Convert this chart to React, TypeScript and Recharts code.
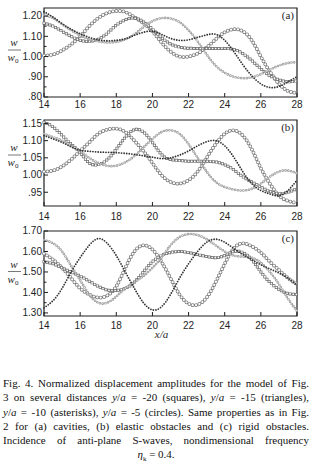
import { LineChart, Line, XAxis, YAxis, ReferenceArea } from "recharts";

// x/a positions, read every 0.5
const xs = [14, 14.5, 15, 15.5, 16, 16.5, 17, 17.5, 18, 18.5, 19, 19.5, 20, 20.5, 21, 21.5, 22, 22.5, 23, 23.5, 24, 24.5, 25, 25.5, 26, 26.5, 27, 27.5, 28];

// (a) cavities
const aSquares = [1.165, 1.15, 1.125, 1.10, 1.08, 1.075, 1.085, 1.115, 1.155, 1.182, 1.19, 1.172, 1.135, 1.095, 1.062, 1.047, 1.041, 1.04, 1.04, 1.04, 1.04, 1.035, 1.015, 0.98, 0.94, 0.905, 0.885, 0.875, 0.88];
const aTriangles = [1.205, 1.19, 1.16, 1.13, 1.105, 1.085, 1.075, 1.07, 1.072, 1.085, 1.11, 1.145, 1.175, 1.19, 1.188, 1.17, 1.13, 1.075, 1.01, 0.955, 0.92, 0.90, 0.893, 0.897, 0.913, 0.935, 0.955, 0.968, 0.972];
const aAsterisks = [1.222, 1.195, 1.163, 1.135, 1.113, 1.095, 1.083, 1.078, 1.08, 1.088, 1.105, 1.12, 1.125, 1.11, 1.09, 1.08, 1.083, 1.095, 1.107, 1.11, 1.08, 1.025, 0.96, 0.905, 0.865, 0.847, 0.852, 0.875, 0.90];
const aCircles = [1.005, 1.01, 1.03, 1.06, 1.10, 1.15, 1.19, 1.215, 1.225, 1.22, 1.195, 1.165, 1.125, 1.07, 1.025, 1.0, 1.0, 1.015, 1.045, 1.085, 1.12, 1.135, 1.125, 1.08, 1.0, 0.925, 0.865, 0.83, 0.82];

// (b) elastic obstacles
const bSquares = [1.153, 1.14, 1.115, 1.09, 1.065, 1.035, 1.03, 1.045, 1.075, 1.11, 1.132, 1.125, 1.095, 1.06, 1.045, 1.042, 1.04, 1.04, 1.04, 1.038, 1.03, 1.015, 0.995, 0.98, 0.965, 0.952, 0.946, 0.95, 0.96];
const bTriangles = [1.12, 1.11, 1.10, 1.085, 1.07, 1.05, 1.035, 1.027, 1.027, 1.037, 1.055, 1.08, 1.105, 1.125, 1.13, 1.12, 1.09, 1.05, 1.01, 0.98, 0.965, 0.958, 0.955, 0.96, 0.975, 0.995, 1.01, 1.013, 1.005];
const bAsterisks = [1.115, 1.105, 1.095, 1.082, 1.072, 1.069, 1.067, 1.066, 1.065, 1.063, 1.06, 1.056, 1.052, 1.048, 1.05, 1.058, 1.07, 1.085, 1.097, 1.10, 1.085, 1.052, 1.01, 0.975, 0.955, 0.945, 0.94, 0.955, 0.985];
const bCircles = [1.01, 1.013, 1.025, 1.045, 1.07, 1.095, 1.12, 1.132, 1.135, 1.125, 1.10, 1.07, 1.035, 1.0, 0.98, 0.975, 0.985, 1.01, 1.05, 1.09, 1.12, 1.13, 1.115, 1.075, 1.02, 0.975, 0.94, 0.925, 0.918];

// (c) rigid obstacles
const cSquares = [1.55, 1.54, 1.52, 1.50, 1.48, 1.455, 1.43, 1.412, 1.41, 1.42, 1.45, 1.50, 1.55, 1.58, 1.595, 1.60, 1.595, 1.585, 1.575, 1.57, 1.58, 1.60, 1.595, 1.56, 1.50, 1.45, 1.415, 1.395, 1.39];
const cTriangles = [1.656, 1.64, 1.60, 1.53, 1.46, 1.39, 1.35, 1.35, 1.38, 1.42, 1.45, 1.48, 1.52, 1.57, 1.63, 1.67, 1.685, 1.68, 1.66, 1.63, 1.60, 1.58, 1.575, 1.57, 1.545, 1.50, 1.44, 1.37, 1.31];
const cAsterisks = [1.325, 1.36, 1.42, 1.50, 1.57, 1.63, 1.663, 1.64, 1.58, 1.50, 1.42, 1.35, 1.315, 1.33, 1.39, 1.47, 1.54, 1.60, 1.645, 1.66, 1.645, 1.615, 1.585, 1.56, 1.535, 1.515, 1.495, 1.47, 1.435];
const cCircles = [1.59, 1.56, 1.52, 1.47, 1.42, 1.39, 1.375, 1.385, 1.43, 1.52, 1.60, 1.63, 1.61, 1.55, 1.47, 1.39, 1.345, 1.34, 1.375, 1.45, 1.54, 1.615, 1.64, 1.625, 1.595, 1.55, 1.51, 1.47, 1.44];

const xTicks = [14, 16, 18, 20, 22, 24, 26, 28];

const aTicks = [0.8, 0.9, 1.0, 1.1, 1.2];
const aTickLabels = [".80", ".90", "1.00", "1.10", "1.20"];
const aMinor = [0.85, 0.95, 1.05, 1.15];

const bTicks = [0.95, 1.0, 1.05, 1.1, 1.15];
const bTickLabels = [".95", "1.00", "1.05", "1.10", "1.15"];
const bMinor: number[] = [];

const cTicks = [1.3, 1.4, 1.5, 1.6, 1.7];
const cTickLabels = ["1.30", "1.40", "1.50", "1.60", "1.70"];
const cMinor = [1.35, 1.45, 1.55, 1.65];

const INK = "#1e1e1e";
const SANS = "Liberation Sans, Arial, sans-serif";
const SERIF = "Liberation Serif, Times New Roman, serif";

// marker chains drawn as dotted strokes (outer + white inner for hollow symbols)
const MARKS: Record<string, { stroke: string; w: number; dash: string; cap: "round" | "square" }[]> = {
  ci: [
    { stroke: "#7a7a7a", w: 3.8, dash: "0 3.5", cap: "round" },
    { stroke: "#fff", w: 2.3, dash: "0 3.5", cap: "round" },
  ],
  sq: [
    { stroke: "#6a6a6a", w: 3, dash: "0 3.1", cap: "square" },
    { stroke: "#fff", w: 1.6, dash: "0 3.1", cap: "square" },
  ],
  tr: [
    { stroke: "#999", w: 2.6, dash: "0 2.8", cap: "round" },
    { stroke: "#fff", w: 1.0, dash: "0 2.8", cap: "round" },
  ],
  as: [{ stroke: "#333", w: 1.8, dash: "0 2.6", cap: "round" }],
};

function buildRows(sq: number[], tr: number[], as: number[], ci: number[]) {
  return xs.map((x, i) => ({ x, sq: sq[i], tr: tr[i], as: as[i], ci: ci[i] }));
}

function seriesLines() {
  const out: any[] = [];
  for (const key of ["ci", "sq", "tr", "as"]) {
    MARKS[key].forEach((m, j) => {
      out.push(
        <Line
          key={`${key}-${j}`}
          type="natural"
          dataKey={key}
          stroke={m.stroke}
          strokeWidth={m.w}
          strokeDasharray={m.dash}
          strokeLinecap={m.cap}
          dot={false}
          activeDot={false}
          isAnimationActive={false}
        />
      );
    });
  }
  return out;
}

function YTick(props: any) {
  const { x, y, payload, majors, labels } = props;
  const i = majors.findIndex((m: number) => Math.abs(m - payload.value) < 1e-6);
  const ax = x + 2;
  return (
    <g>
      <line x1={ax} x2={ax + (i >= 0 ? 4 : 2.5)} y1={y} y2={y} stroke={INK} strokeWidth={1} />
      {i >= 0 && (
        <text x={x} y={y + 3.4} textAnchor="end" fontFamily={SANS} fontSize={10} fill={INK}>
          {labels[i]}
        </text>
      )}
    </g>
  );
}

function XTick(props: any) {
  const { x, y, payload, gap } = props;
  const ay = y - gap;
  return (
    <g>
      <line x1={x} x2={x} y1={ay} y2={ay - 4} stroke={INK} strokeWidth={1} />
      <text x={x} y={y + 7.5} textAnchor="middle" fontFamily={SANS} fontSize={10} fill={INK}>
        {payload.value}
      </text>
    </g>
  );
}

function FracLabel(props: any) {
  const vb = props.viewBox;
  const cy = vb.y + vb.height / 2 + props.shift;
  return (
    <g fontFamily={SERIF} fontStyle="italic" fontSize={11} fill={INK}>
      <text x={14} y={cy - 4} textAnchor="middle">w</text>
      <line x1={8} x2={21} y1={cy} y2={cy} stroke="#555" strokeWidth={0.8} />
      <text x={13} y={cy + 11} textAnchor="middle">
        w<tspan fontSize={7} dy={2} fontStyle="normal">0</tspan>
      </text>
    </g>
  );
}

function XLabel(props: any) {
  const vb = props.viewBox;
  return (
    <text x={vb.x + vb.width / 2 - 9} y={vb.y + 22} textAnchor="middle" fontFamily={SERIF} fontStyle="italic" fontSize={11} fill={INK}>
      x/a
    </text>
  );
}

function Panel(props: any) {
  const { top, height, axisH, gap, domain, majors, labels, minors, rows, tag, shift, xLabel } = props;
  const ticks = [...majors, ...minors].sort((a: number, b: number) => a - b);
  return (
    <div style={{ position: "absolute", left: 0, top }}>
      <LineChart width={312} height={height} data={rows} margin={{ top: 8, right: 15, bottom: 0, left: 0 }}>
        <XAxis
          dataKey="x"
          type="number"
          domain={[14, 28]}
          ticks={xTicks}
          interval={0}
          height={axisH}
          axisLine={false}
          tickLine={false}
          tickSize={0}
          tickMargin={gap}
          tick={(p: any) => <XTick {...p} gap={gap} />}
          label={xLabel ? { content: (p: any) => <XLabel {...p} /> } : undefined}
        />
        <YAxis
          type="number"
          domain={domain}
          allowDataOverflow
          ticks={ticks}
          interval={0}
          width={44}
          axisLine={false}
          tickLine={false}
          tickSize={0}
          tickMargin={2}
          tick={(p: any) => <YTick {...p} majors={majors} labels={labels} />}
          label={{ content: (p: any) => <FracLabel {...p} shift={shift} /> }}
        />
        <ReferenceArea
          x1={14}
          x2={28}
          y1={domain[0]}
          y2={domain[1]}
          fill="none"
          fillOpacity={0}
          stroke={INK}
          strokeWidth={1.2}
          ifOverflow="visible"
          label={{ value: tag, position: "insideTopRight", offset: 3, fontFamily: SERIF, fontSize: 11, fill: INK }}
        />
        {seriesLines()}
      </LineChart>
    </div>
  );
}

const captionLine: any = {
  textAlign: "justify",
  textAlignLast: "justify",
  whiteSpace: "nowrap",
  height: 14.3,
  lineHeight: "14.3px",
};

export default function App() {
  return (
    <div style={{ position: "absolute", left: 0, top: 0, width: 312, height: 469, background: "#fff", overflow: "hidden" }}>
      <Panel top={0} height={120} axisH={23} gap={3} domain={[0.8, 1.24]} majors={aTicks} labels={aTickLabels} minors={aMinor}
        rows={buildRows(aSquares, aTriangles, aAsterisks, aCircles)} tag="(a)" shift={-2.5} />
      <Panel top={112} height={116} axisH={22} gap={6} domain={[0.91, 1.16]} majors={bTicks} labels={bTickLabels} minors={bMinor}
        rows={buildRows(bSquares, bTriangles, bAsterisks, bCircles)} tag="(b)" shift={-8} />
      <Panel top={223} height={125} axisH={32} gap={5} domain={[1.285, 1.7]} majors={cTicks} labels={cTickLabels} minors={cMinor}
        rows={buildRows(cSquares, cTriangles, cAsterisks, cCircles)} tag="(c)" shift={-2} xLabel />
      <div style={{ position: "absolute", left: 3, top: 376, width: 306, fontFamily: SERIF, fontSize: 11, color: "#111" }}>
        <div style={captionLine}>Fig. 4. Normalized displacement amplitudes for the model of Fig.</div>
        <div style={captionLine}>3 on several distances <i>y</i>/<i>a</i> = -20 (squares), <i>y</i>/<i>a</i> = -15 (triangles),</div>
        <div style={captionLine}><i>y</i>/<i>a</i> = -10 (asterisks), <i>y</i>/<i>a</i> = -5 (circles). Same properties as in Fig.</div>
        <div style={captionLine}>2 for (a) cavities, (b) elastic obstacles and (c) rigid obstacles.</div>
        <div style={captionLine}>Incidence of anti-plane S-waves, nondimensional frequency</div>
        <div style={{ textAlign: "center", height: 14.3, lineHeight: "14.3px" }}>
          <i>η</i><sub style={{ fontSize: 7 }}>k</sub> = 0.4.
        </div>
      </div>
    </div>
  );
}
